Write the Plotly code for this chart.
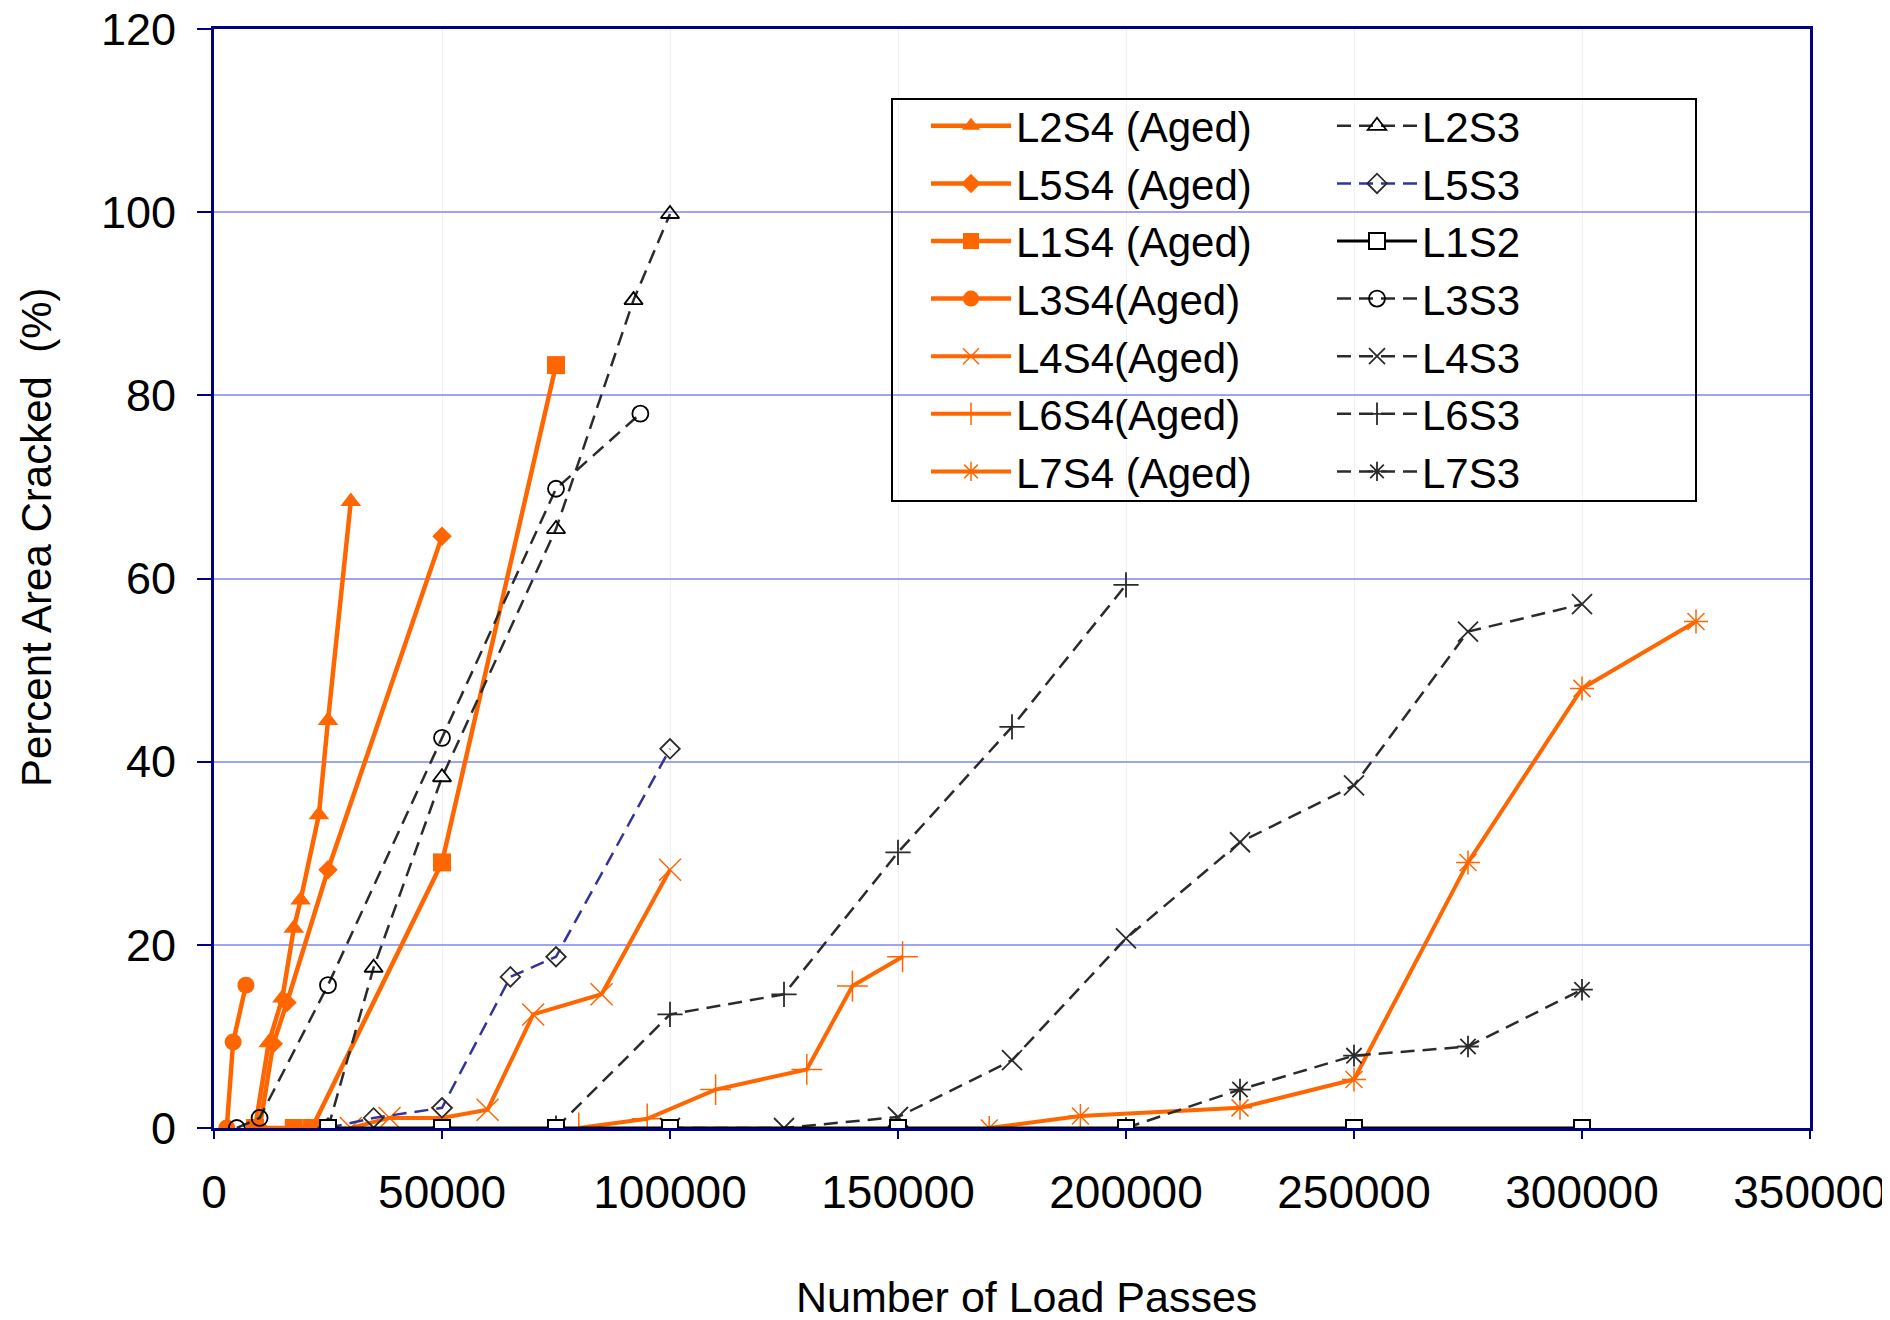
import plotly.graph_objects as go

# ---------------- data ----------------
L2S4_x = [9000, 12000, 15000, 17500, 19000, 23000, 25000, 30000]
L2S4_y = [0, 9.3, 14.2, 21.8, 24.9, 34.2, 44.5, 68.4]
L5S4_x = [10000, 13000, 16000, 25000, 50000]
L5S4_y = [0, 9.2, 13.7, 28.2, 64.6]
L1S4_x = [9000, 17500, 21500, 50000, 75000]
L1S4_y = [0, 0, 0, 29.0, 83.3]
L3S4_x = [2800, 4200, 7000]
L3S4_y = [0, 9.4, 15.6]
L4S4_x = [30000, 38500, 50000, 60000, 70000, 85000, 100000]
L4S4_y = [0, 1.1, 1.1, 2.0, 12.4, 14.6, 28.2]
L6S4_x = [80000, 95000, 110000, 130000, 140000, 151000]
L6S4_y = [0, 1.0, 4.2, 6.4, 15.5, 18.7]
L7S4_x = [170000, 190000, 225000, 250000, 275000, 300000, 325000]
L7S4_y = [0, 1.3, 2.2, 5.3, 29.0, 48.0, 55.3]

L2S3_x = [25000, 35000, 50000, 75000, 92000, 100000]
L2S3_y = [0, 17.5, 38.3, 65.4, 90.4, 99.8]
L5S3_x = [25000, 35000, 50000, 65000, 75000, 100000]
L5S3_y = [0, 1.1, 2.2, 16.5, 18.7, 41.4]
L1S2_x = [25000, 50000, 75000, 100000, 150000, 200000, 250000, 300000]
L1S2_y = [0, 0, 0, 0, 0, 0, 0, 0]
L3S3_x = [5000, 10000, 25000, 50000, 75000, 93500]
L3S3_y = [0, 1.1, 15.6, 42.6, 69.8, 78.0]
L4S3_x = [100000, 125000, 150000, 175000, 200000, 225000, 250000, 275000, 300000]
L4S3_y = [0, 0, 1.2, 7.4, 20.7, 31.2, 37.4, 54.2, 57.2]
L6S3_x = [75000, 100000, 125000, 150000, 175000, 200000]
L6S3_y = [0, 12.4, 14.6, 30.1, 43.8, 59.3]
L7S3_x = [200000, 225000, 250000, 275000, 300000]
L7S3_y = [0, 4.2, 7.9, 8.9, 15.1]

x_ticks = [0, 50000, 100000, 150000, 200000, 250000, 300000, 350000]
y_ticks = [0, 20, 40, 60, 80, 100, 120]

# ---------------- styling ----------------
ORANGE = "#FF6600"
BLACK = "#000000"
DGRAY = "#2b2b2b"
NAVY = "#000080"
FONT = "Liberation Sans, Arial, sans-serif"
DASH = "14px,8px"

W, H = 1890, 1320
OFF = 8  # page body margin of the browser
# wanted plot box on screen: left 214, right 1810, top 29, bottom 1128
L, T = 214 - OFF, 29 - OFF
R = W + OFF - 1810
B = H + OFF - 1128
PW, PH = W - L - R, H - T - B


def px_x(p):  # screen px -> paper
    return (p - OFF - L) / PW


def px_y(p):  # screen px -> paper
    return (H - B - (p - OFF)) / PH


fig = go.Figure()


def add(name, x, y, legend, color, symbol, size, dash="solid", width=4,
        mcolor=None, mline=None, mlw=1.5):
    fig.add_trace(go.Scatter(
        x=x, y=y, name=name, mode="lines+markers", legend=legend,
        line=dict(color=color, width=width, dash=dash),
        marker=dict(symbol=symbol, size=size,
                    color=mcolor if mcolor else color,
                    line=dict(color=mline if mline else color, width=mlw)),
    ))


# orange (aged) series -> left legend column
add("L2S4 (Aged)", L2S4_x, L2S4_y, "legend", ORANGE, "triangle-up", 18, width=4.5, mlw=0)
add("L5S4 (Aged)", L5S4_x, L5S4_y, "legend", ORANGE, "diamond", 15, width=4.5, mlw=0)
add("L1S4 (Aged)", L1S4_x, L1S4_y, "legend", ORANGE, "square", 18, width=4.5, mlw=0)
add("L3S4(Aged)", L3S4_x, L3S4_y, "legend", ORANGE, "circle", 17, width=4.5, mlw=0)
add("L4S4(Aged)", L4S4_x, L4S4_y, "legend", ORANGE, "x-thin-open", 22, width=4)
add("L6S4(Aged)", L6S4_x, L6S4_y, "legend", ORANGE, "cross-thin-open", 22, width=4)
add("L7S4 (Aged)", L7S4_x, L7S4_y, "legend", ORANGE, "asterisk-open", 20, width=4)

# dashed/black series -> right legend column
add("L2S3", L2S3_x, L2S3_y, "legend2", DGRAY, "triangle-up-open", 16,
    dash=DASH, width=2.5, mcolor=BLACK, mlw=1.8)
add("L5S3", L5S3_x, L5S3_y, "legend2", "#333399", "diamond-open", 15,
    dash=DASH, width=2.5, mcolor=DGRAY, mlw=1.8)
add("L3S3", L3S3_x, L3S3_y, "legend2", DGRAY, "circle-open", 16,
    dash=DASH, width=2.5, mcolor=BLACK, mlw=1.8)
add("L4S3", L4S3_x, L4S3_y, "legend2", DGRAY, "x-thin-open", 20,
    dash=DASH, width=2.5, mline=BLACK, mlw=1.8)
add("L6S3", L6S3_x, L6S3_y, "legend2", DGRAY, "cross-thin-open", 18,
    dash=DASH, width=2.5, mline=BLACK, mlw=1.8)
add("L7S3", L7S3_x, L7S3_y, "legend2", DGRAY, "asterisk-open", 18,
    dash=DASH, width=2.5, mline=BLACK, mlw=1.8)
add("L1S2", L1S2_x, L1S2_y, "legend2", BLACK, "square", 16,
    width=3, mcolor="white", mline=BLACK, mlw=2)

# order entries in the right column like the reference
order2 = ["L2S3", "L5S3", "L1S2", "L3S3", "L4S3", "L6S3", "L7S3"]
for tr in fig.data:
    if tr.legend == "legend2":
        tr.legendrank = 1000 + order2.index(tr.name)

legend_common = dict(
    font=dict(family=FONT, size=42, color=BLACK),
    bgcolor="rgba(0,0,0,0)", borderwidth=0,
    xanchor="left", yanchor="top", itemwidth=80,
    tracegroupgap=0, itemclick=False,
)

fig.update_layout(
    width=W, height=H,
    margin=dict(l=L, r=R, t=T, b=B, pad=0, autoexpand=False),
    paper_bgcolor="white", plot_bgcolor="white",
    font=dict(family=FONT, color=BLACK),
    showlegend=True,
    legend=dict(x=px_x(926), y=px_y(92), **legend_common),
    legend2=dict(x=px_x(1332), y=px_y(92), **legend_common),
    xaxis=dict(
        range=[0, 350000], tickvals=x_ticks,
        ticktext=[str(v) for v in x_ticks],
        showgrid=True, gridcolor="#f0f0f0", gridwidth=1,
        showline=True, linecolor=NAVY, linewidth=3, mirror=True,
        ticks="outside", ticklen=8, tickcolor=NAVY, tickwidth=1.5,
        tickfont=dict(family=FONT, size=46, color=BLACK),
        ticklabelstandoff=14, zeroline=False,
        ticklabeloverflow="allow", automargin=False,
    ),
    yaxis=dict(
        range=[0, 120], tickvals=y_ticks,
        showgrid=True, gridcolor="#9ea4f4", gridwidth=1.5,
        showline=True, linecolor=NAVY, linewidth=3, mirror=True,
        ticks="outside", ticklen=14, tickcolor=NAVY, tickwidth=1.5,
        tickfont=dict(family=FONT, size=45, color=BLACK),
        ticklabelstandoff=12, zeroline=False,
        ticklabeloverflow="allow", automargin=False,
    ),
    shapes=[
        # legend frame
        dict(type="rect", xref="paper", yref="paper",
             x0=px_x(892), x1=px_x(1696), y0=px_y(501), y1=px_y(99),
             line=dict(color=BLACK, width=2), fillcolor="rgba(0,0,0,0)",
             layer="above"),
    ],
    annotations=[
        dict(text="Percent Area Cracked  (%)", xref="paper", yref="paper",
             x=px_x(36), y=px_y(537), textangle=-90, showarrow=False,
             xanchor="center", yanchor="middle",
             font=dict(family=FONT, size=42, color=BLACK)),
        dict(text="Number of Load Passes", xref="paper", yref="paper",
             x=px_x(1026), y=px_y(1297), showarrow=False,
             xanchor="center", yanchor="middle",
             font=dict(family=FONT, size=43, color=BLACK)),
    ],
)

fig.write_html("out.html")
